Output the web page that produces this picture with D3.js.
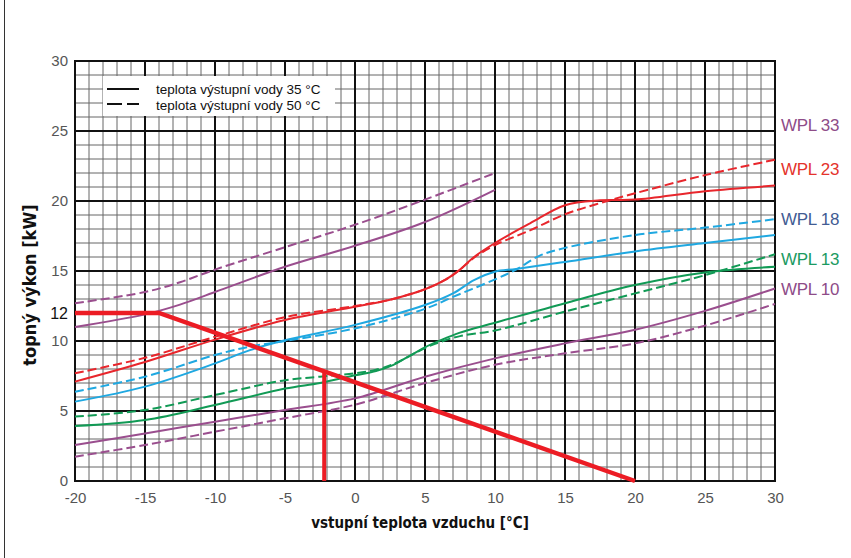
<!DOCTYPE html>
<html>
<head>
<meta charset="utf-8">
<script src="https://cdn.jsdelivr.net/npm/d3@7"></script>
<style>
  body { margin: 0; background: #fff; }
  svg { display: block; font-family: "Liberation Sans", Arial, sans-serif; }
</style>
</head>
<body>
<div id="chart"></div>
<script>
// x = vstupní teplota vzduchu [°C], y = topný výkon [kW]
const xTicks = [-20, -15, -10, -5, 0, 5, 10, 15, 20, 25, 30];
const yTicks = [0, 5, 10, 12, 15, 20, 25, 30];

// 35 °C curves (solid) and 50 °C curves (dashed)
const wpl33_35 = [[-20, 11.0], [-15, 11.9], [-12.5, 12.6], [-10, 13.5], [-5, 15.3], [0, 16.8], [5, 18.5], [10, 20.8]];
const wpl33_50 = [[-20, 12.7], [-15, 13.5], [-12.5, 14.2], [-10, 15.1], [-5, 16.7], [0, 18.3], [5, 20.1], [10, 22.0]];

const wpl23_35 = [[-20, 7.1], [-15, 8.5], [-10, 10.1], [-5, 11.5], [0, 12.45], [2.5, 12.95], [5, 13.7], [6.5, 14.4], [7.5, 15.1], [8.5, 16.0], [10, 17.0], [12.5, 18.4], [15, 19.7], [17.5, 20.05], [20, 20.1], [25, 20.7], [30, 21.1]];
const wpl23_50 = [[-20, 7.7], [-15, 8.8], [-10, 10.3], [-5, 11.7], [0, 12.5], [2.5, 12.95], [5, 13.7], [6.5, 14.4], [7.5, 15.1], [8.5, 15.95], [10, 16.85], [12.5, 17.9], [15, 19.05], [17.5, 19.85], [20, 20.55], [25, 21.85], [30, 22.95]];

const wpl18_35 = [[-20, 5.67], [-15, 6.74], [-10, 8.4], [-7.5, 9.35], [-5, 10.05], [0, 11.15], [5, 12.57], [7, 13.4], [8.5, 14.35], [10, 14.95], [11.5, 15.15], [15, 15.65], [20, 16.4], [25, 17.0], [30, 17.57]];
const wpl18_50 = [[-20, 6.38], [-15, 7.45], [-10, 9.0], [-7.5, 9.6], [-5, 10.0], [0, 10.9], [5, 12.3], [7, 13.15], [10, 14.4], [11.5, 15.1], [13.2, 16.1], [15, 16.65], [20, 17.57], [25, 18.1], [30, 18.7]];

const wpl13_35 = [[-20, 3.93], [-15, 4.36], [-10, 5.43], [-5, 6.6], [-2.5, 7.0], [0, 7.55], [1.5, 7.85], [2.75, 8.3], [3.75, 8.85], [5, 9.55], [6, 10.0], [7.5, 10.6], [10, 11.3], [15, 12.7], [20, 14.0], [25, 14.9], [30, 15.3]];
const wpl13_50 = [[-20, 4.6], [-15, 5.07], [-10, 6.14], [-5, 7.2], [-2.5, 7.45], [0, 7.7], [1.5, 7.95], [2.75, 8.35], [3.75, 8.85], [5, 9.5], [6, 9.9], [7.5, 10.35], [10, 10.75], [15, 12.1], [20, 13.4], [25, 14.7], [30, 16.2]];

const wpl10_35 = [[-20, 2.57], [-15, 3.4], [-10, 4.24], [-5, 5.07], [0, 5.9], [5, 7.45], [10, 8.76], [15, 9.83], [20, 10.8], [25, 12.15], [30, 13.75]];
const wpl10_50 = [[-20, 1.74], [-15, 2.57], [-10, 3.52], [-5, 4.48], [0, 5.45], [5, 7.0], [10, 8.3], [15, 9.12], [20, 9.83], [25, 11.1], [30, 12.65]];

// building heat demand line and the bivalent point drop
const demandLine = [[-20, 12], [-14, 12], [20, 0]];
const bivalentLine = [[-2.2, 0], [-2.2, 7.8]];

const models = ['WPL 33', 'WPL 23', 'WPL 18', 'WPL 13', 'WPL 10'];
const modelLabelY = [25.45, 22.3, 18.7, 15.85, 13.7];

const series = [
  { model: 'WPL 33', water: 35, values: wpl33_35 },
  { model: 'WPL 33', water: 50, values: wpl33_50 },
  { model: 'WPL 23', water: 35, values: wpl23_35 },
  { model: 'WPL 23', water: 50, values: wpl23_50 },
  { model: 'WPL 18', water: 35, values: wpl18_35 },
  { model: 'WPL 18', water: 50, values: wpl18_50 },
  { model: 'WPL 13', water: 35, values: wpl13_35 },
  { model: 'WPL 13', water: 50, values: wpl13_50 },
  { model: 'WPL 10', water: 35, values: wpl10_35 },
  { model: 'WPL 10', water: 50, values: wpl10_50 },
];

const lineColor = {
  'WPL 33': '#9a4e8e',
  'WPL 23': '#e8262c',
  'WPL 18': '#1fa8e1',
  'WPL 13': '#119a55',
  'WPL 10': '#9a4e8e',
};
const labelColor = {
  'WPL 33': '#8e4c88',
  'WPL 23': '#e4332c',
  'WPL 18': '#425c93',
  'WPL 13': '#1b9a62',
  'WPL 10': '#8e4c88',
};

const width = 851;
const height = 558;
const plot = { left: 75, right: 775, top: 61, bottom: 481 };

const svg = d3.select('#chart')
  .append('svg')
  .attr('width', width)
  .attr('height', height);

svg.append('rect')
  .attr('width', width)
  .attr('height', height)
  .attr('fill', '#fff');

// thin frame line on the left edge
svg.append('line')
  .attr('x1', 4.5).attr('x2', 4.5)
  .attr('y1', 0).attr('y2', height)
  .attr('stroke', '#333')
  .attr('stroke-width', 1);

const xScale = d3.scaleLinear()
  .domain([-20, 30])
  .range([plot.left, plot.right]);

const yScale = d3.scaleLinear()
  .domain([0, 30])
  .range([plot.bottom, plot.top]);

// Grid: 1 unit minor, 5 units major
const grid = svg.append('g').attr('class', 'grid');

grid.selectAll('line.vminor')
  .data(d3.range(-20, 31, 1).filter(d => d % 5 !== 0))
  .join('line')
  .attr('x1', d => xScale(d)).attr('x2', d => xScale(d))
  .attr('y1', plot.top).attr('y2', plot.bottom)
  .attr('stroke', '#666')
  .attr('stroke-width', 1);

grid.selectAll('line.hminor')
  .data(d3.range(0, 31, 1).filter(d => d % 5 !== 0))
  .join('line')
  .attr('x1', plot.left).attr('x2', plot.right)
  .attr('y1', d => yScale(d)).attr('y2', d => yScale(d))
  .attr('stroke', '#666')
  .attr('stroke-width', 1);

grid.append('g')
  .selectAll('line')
  .data(xTicks)
  .join('line')
  .attr('x1', d => xScale(d)).attr('x2', d => xScale(d))
  .attr('y1', plot.top).attr('y2', plot.bottom)
  .attr('stroke', '#111')
  .attr('stroke-width', 2);

grid.append('g')
  .selectAll('line')
  .data(yTicks.filter(d => d % 5 === 0))
  .join('line')
  .attr('x1', plot.left - 1).attr('x2', plot.right + 1)
  .attr('y1', d => yScale(d)).attr('y2', d => yScale(d))
  .attr('stroke', '#111')
  .attr('stroke-width', 2);

// Legend
const legend = svg.append('g').attr('class', 'legend');
legend.append('rect')
  .attr('x', 103).attr('y', 76)
  .attr('width', 232).attr('height', 40)
  .attr('fill', '#fff');

legend.append('line')
  .attr('x1', 107).attr('x2', 139)
  .attr('y1', 89).attr('y2', 89)
  .attr('stroke', '#111').attr('stroke-width', 2);
legend.append('line')
  .attr('x1', 107).attr('x2', 139)
  .attr('y1', 104).attr('y2', 104)
  .attr('stroke', '#111').attr('stroke-width', 2)
  .attr('stroke-dasharray', '15,5');

legend.append('text')
  .attr('x', 156).attr('y', 94)
  .attr('font-size', 13.5).attr('fill', '#111')
  .text('teplota výstupní vody 35 °C');
legend.append('text')
  .attr('x', 156).attr('y', 110)
  .attr('font-size', 13.5).attr('fill', '#111')
  .text('teplota výstupní vody 50 °C');

// Curves
const line = d3.line()
  .x(d => xScale(d[0]))
  .y(d => yScale(d[1]))
  .curve(d3.curveCatmullRom.alpha(0.5));

svg.append('g')
  .attr('class', 'curves')
  .selectAll('path')
  .data(series)
  .join('path')
  .attr('d', d => line(d.values))
  .attr('fill', 'none')
  .attr('stroke', d => lineColor[d.model])
  .attr('stroke-width', 2)
  .attr('stroke-dasharray', d => d.water === 50 ? '9,4' : null);

// Demand line and bivalent point
const straight = d3.line()
  .x(d => xScale(d[0]))
  .y(d => yScale(d[1]));

svg.append('path')
  .attr('d', straight(demandLine))
  .attr('fill', 'none')
  .attr('stroke', '#ec1c24')
  .attr('stroke-width', 4.5);

svg.append('path')
  .attr('d', straight(bivalentLine))
  .attr('fill', 'none')
  .attr('stroke', '#ec1c24')
  .attr('stroke-width', 4);

// Axes (labels only, grid acts as axis lines)
const xAxis = svg.append('g')
  .attr('transform', `translate(0, ${plot.bottom})`)
  .call(d3.axisBottom(xScale).tickValues(xTicks).tickFormat(d => String(d)).tickSize(0).tickPadding(11));
xAxis.select('.domain').remove();
xAxis.selectAll('text')
  .attr('font-size', 15)
  .attr('font-family', '"Liberation Sans", Arial, sans-serif')
  .attr('fill', '#555');

const yAxis = svg.append('g')
  .attr('transform', `translate(${plot.left}, 0)`)
  .call(d3.axisLeft(yScale).tickValues(yTicks).tickFormat(d => String(d)).tickSize(0).tickPadding(7));
yAxis.select('.domain').remove();
yAxis.selectAll('text')
  .attr('font-size', d => d === 12 ? 16 : 15)
  .attr('font-family', '"Liberation Sans", Arial, sans-serif')
  .attr('fill', d => d === 12 ? '#111' : '#555');

// Model labels on the right
svg.append('g')
  .selectAll('text')
  .data(models)
  .join('text')
  .attr('x', 781)
  .attr('y', (d, i) => yScale(modelLabelY[i]))
  .attr('dy', '0.35em')
  .attr('font-size', 17)
  .attr('letter-spacing', -0.3)
  .attr('fill', d => labelColor[d])
  .text(d => d);

// Axis titles
svg.append('text')
  .attr('x', 420).attr('y', 528)
  .attr('text-anchor', 'middle')
  .attr('font-family', '"Liberation Sans Narrow", "DejaVu Sans Condensed", sans-serif')
  .attr('font-weight', 'bold')
  .attr('font-size', 15)
  .attr('fill', '#111')
  .text('vstupní teplota vzduchu [°C]');

svg.append('text')
  .attr('transform', 'translate(36, 285) rotate(-90)')
  .attr('text-anchor', 'middle')
  .attr('font-family', '"Liberation Sans Narrow", "DejaVu Sans Condensed", sans-serif')
  .attr('font-weight', 'bold')
  .attr('font-size', 18)
  .attr('fill', '#111')
  .text('topný výkon [kW]');
</script>
</body>
</html>
